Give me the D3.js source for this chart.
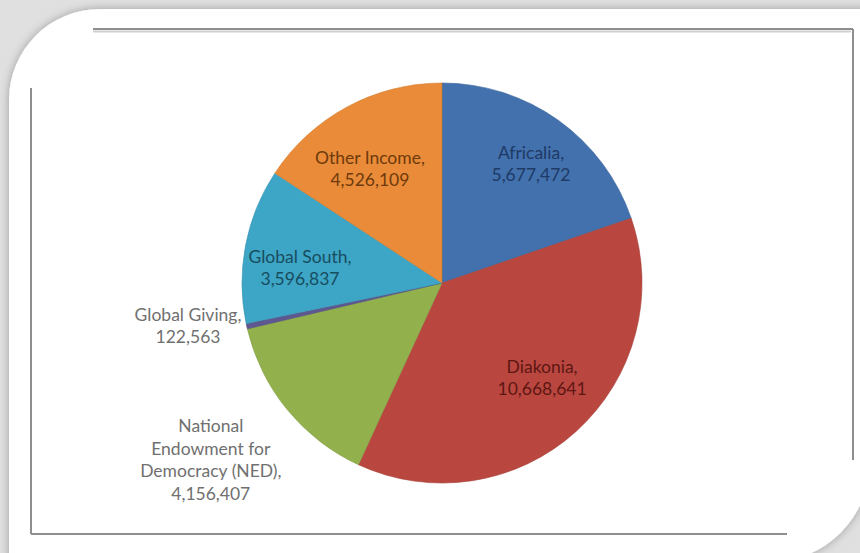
<!DOCTYPE html>
<html>
<head>
<meta charset="utf-8">
<script src="https://cdn.jsdelivr.net/npm/d3@7"></script>
<style>
  html, body { margin: 0; padding: 0; background: #e2e2e2; }
  svg { display: block; }
  text { font-family: Lato, "Open Sans", sans-serif; }
</style>
</head>
<body>
<svg id="chart" width="860" height="553"></svg>
<script>
// ---- data ----
const categories = ["Africalia", "Diakonia", "National Endowment for Democracy (NED)", "Global Giving", "Global South", "Other Income"];
const values = [5677472, 10668641, 4156407, 122563, 3596837, 4526109];
const labelLines = [
  ["Africalia,", "5,677,472"],
  ["Diakonia,", "10,668,641"],
  ["National", "Endowment for", "Democracy (NED),", "4,156,407"],
  ["Global Giving,", "122,563"],
  ["Global South,", "3,596,837"],
  ["Other Income,", "4,526,109"]
];

// ---- styling / layout ----
const colors = ["#4371ad", "#b9473f", "#92b04c", "#5e5890", "#3ea5c5", "#e98b37"];
const textColors = ["#1e3a66", "#5e1612", "#707070", "#707070", "#174d60", "#6e3a0c"];
const labelRadiusFactor = [0.743, 0.69, 1.455, 1.288, 0.714, 0.674];
const labelAngleShift = [1.25, -4.4, 1.9, 2.9, -4.8, -4.0]; // degrees
const W = 860, H = 553;
const cx = 442, cy = 283, R = 200;

const svg = d3.select("#chart");
const defs = svg.append("defs");

const sh = defs.append("filter").attr("id", "cardShadow")
  .attr("x", "-10%").attr("y", "-10%").attr("width", "120%").attr("height", "120%");
sh.append("feDropShadow").attr("dx", 0).attr("dy", 0).attr("stdDeviation", 5)
  .attr("flood-color", "#000").attr("flood-opacity", 0.3);

const soft = defs.append("filter").attr("id", "soft")
  .attr("x", "-5%").attr("y", "-5%").attr("width", "110%").attr("height", "110%");
soft.append("feGaussianBlur").attr("stdDeviation", 0.7);

const lineBlur = defs.append("filter").attr("id", "lineBlur");
lineBlur.append("feGaussianBlur").attr("stdDeviation", 0.6);

// background
svg.append("rect").attr("width", W).attr("height", H).attr("fill", "#e0e0e0");

// white card with rounded top-left and bottom-right
const cardPath = [
  "M", 9, 100,
  "A", 91, 91, 0, 0, 1, 100, 9,
  "L", 870, 9,
  "L", 870, 462,
  "A", 100, 100, 0, 0, 1, 770, 562,
  "L", 9, 562,
  "Z"
].join(" ");
svg.append("path").attr("d", cardPath).attr("fill", "#ffffff").attr("filter", "url(#cardShadow)");

// inner chart frame (partial lines)
const frame = svg.append("g").attr("filter", "url(#lineBlur)");
const segs = [
  [93, 29, 853, 29],
  [853, 29, 853, 460],
  [31, 88, 31, 534],
  [31, 534, 787, 534]
];
segs.forEach(s => {
  frame.append("line").attr("x1", s[0]).attr("y1", s[1]).attr("x2", s[2]).attr("y2", s[3])
    .attr("stroke", "#8e8e8e").attr("stroke-width", 2);
});
frame.append("line").attr("x1", 93).attr("y1", 31.5).attr("x2", 851).attr("y2", 31.5)
  .attr("stroke", "#d0d0d0").attr("stroke-width", 2);

// pie
const data = categories.map((c, i) => ({ name: c, value: values[i], i }));
const pie = d3.pie().value(d => d.value).sort(null);
const arcs = pie(data);
const arc = d3.arc().innerRadius(0).outerRadius(R);

const g = svg.append("g").attr("transform", `translate(${cx},${cy})`);
g.append("g").attr("filter", "url(#soft)")
  .selectAll("path").data(arcs).join("path")
  .attr("d", arc)
  .attr("fill", d => colors[d.data.i])
  .attr("stroke", d => d3.color(colors[d.data.i]).darker(0.3))
  .attr("stroke-width", 0.6);

// labels
const fontSize = 17.5, lineH = 22.5;
const lg = g.append("g");
arcs.forEach(d => {
  const i = d.data.i;
  const lr = R * labelRadiusFactor[i];
  const mid = (d.startAngle + d.endAngle) / 2 + labelAngleShift[i] * Math.PI / 180;
  const x = lr * Math.sin(mid), y = -lr * Math.cos(mid);
  const lines = labelLines[i];
  const t = lg.append("text")
    .attr("text-anchor", "middle")
    .attr("font-size", fontSize)
    .attr("fill", textColors[i]);
  const y0 = y - (lines.length - 1) * lineH / 2;
  lines.forEach((ln, k) => {
    t.append("tspan").attr("x", x).attr("y", y0 + k * lineH).attr("dy", "0.35em").text(ln);
  });
});
</script>
</body>
</html>
